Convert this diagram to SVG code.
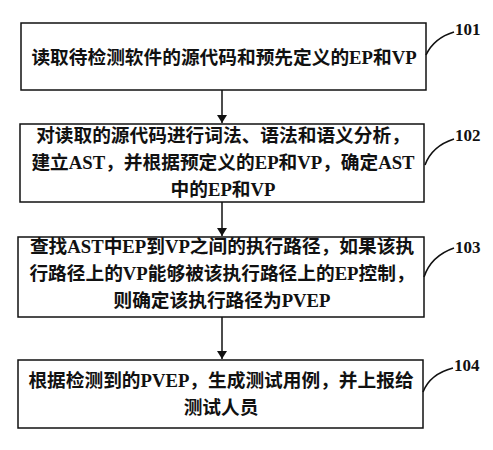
<svg xmlns="http://www.w3.org/2000/svg" width="493" height="450" viewBox="0 0 493 450">
<style>
.box{fill:#fff;stroke:#111;stroke-width:1.5}
.t{font-family:"Liberation Serif","Noto Sans CJK SC",serif;font-weight:bold;font-size:18.7px;fill:#111;text-anchor:middle}
.lab{font-family:"Liberation Serif",serif;font-weight:bold;font-size:17px;fill:#111}
.lead{fill:none;stroke:#111;stroke-width:1.6}
.conn{stroke:#111;stroke-width:1.5;fill:none}
</style>
<defs>
<marker id="ah" markerWidth="8" markerHeight="10" refX="8" refY="5" orient="auto" markerUnits="userSpaceOnUse">
<path d="M0,0 L8,5 L0,10 Z" fill="#111"/>
</marker>
</defs>
<rect width="493" height="450" fill="#fff"/>
<g id="connectors">
<line class="conn" x1="222" y1="90" x2="222" y2="123" marker-end="url(#ah)"/>
<line class="conn" x1="222" y1="202" x2="222" y2="236" marker-end="url(#ah)"/>
<line class="conn" x1="222" y1="317" x2="222" y2="359" marker-end="url(#ah)"/>
</g>
<g id="n101">
<rect class="box" x="21" y="23" width="405" height="67"/>
<text class="t" x="224" y="64">读取待检测软件的源代码和预先定义的EP和VP</text>
<path class="lead" d="M426,55 Q434,38 454,32"/>
<text class="lab" x="455" y="35">101</text>
</g>
<g id="n102">
<rect class="box" x="20" y="124" width="404" height="78"/>
<text class="t" x="223" y="142">对读取的源代码进行词法、语法和语义分析，</text>
<text class="t" x="223" y="169">建立AST，并根据预定义的EP和VP，确定AST</text>
<text class="t" x="223" y="196">中的EP和VP</text>
<path class="lead" d="M425,165 Q432,146 454,139"/>
<text class="lab" x="455" y="141">102</text>
</g>
<g id="n103">
<rect class="box" x="18" y="237" width="406" height="80"/>
<text class="t" x="222" y="253">查找AST中EP到VP之间的执行路径，如果该执</text>
<text class="t" x="222" y="280">行路径上的VP能够被该执行路径上的EP控制，</text>
<text class="t" x="222" y="307">则确定该执行路径为PVEP</text>
<path class="lead" d="M424,277 Q431,256 454,248"/>
<text class="lab" x="455" y="253">103</text>
</g>
<g id="n104">
<rect class="box" x="18" y="360" width="405" height="68"/>
<text class="t" x="221" y="387">根据检测到的PVEP，生成测试用例，并上报给</text>
<text class="t" x="221" y="414">测试人员</text>
<path class="lead" d="M423,392 Q430,374 453,368"/>
<text class="lab" x="454" y="371">104</text>
</g>
</svg>
